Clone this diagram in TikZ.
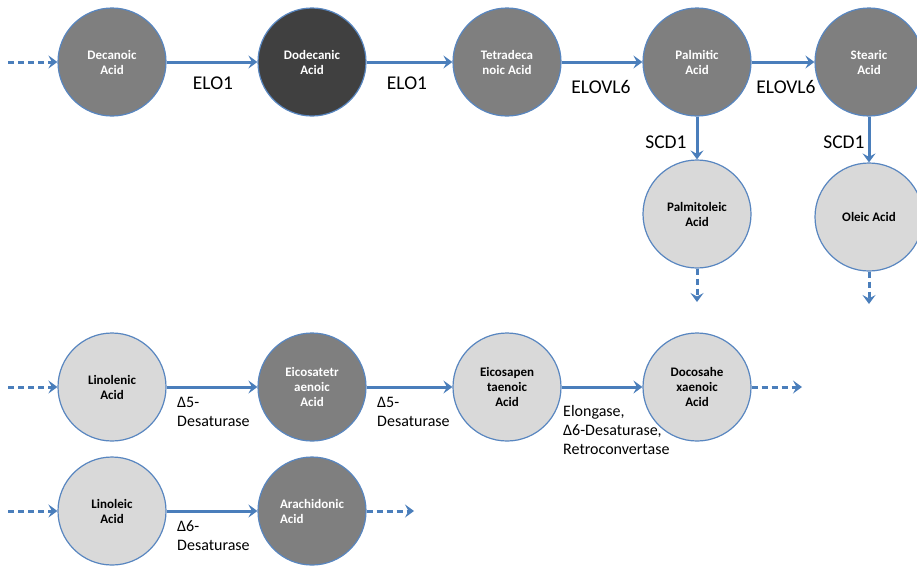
\documentclass[tikz,border=0pt]{standalone}
\usepackage{fontspec}
\setmainfont{Carlito}
\usetikzlibrary{arrows.meta}
\definecolor{arrowblue}{RGB}{74,126,187}
\definecolor{ringblue}{RGB}{88,134,192}
\definecolor{midgray}{RGB}{127,127,127}
\definecolor{darkgray}{RGB}{64,64,64}
\definecolor{lightgray}{RGB}{217,217,217}
\tikzset{
  acid/.style={circle, minimum size=108pt, inner sep=0pt, draw=ringblue, line width=1.2pt,
    font=\fontsize{13}{15}\selectfont\bfseries, align=center},
  darkacid/.style={acid, fill=midgray, text=white},
  blackacid/.style={acid, fill=darkgray, text=white},
  lightacid/.style={acid, fill=lightgray, text=black},
  arr/.style={draw=arrowblue, line width=3pt, -{Stealth[length=9pt,width=13pt,inset=3.5pt]}},
  darr/.style={arr, dash pattern=on 6pt off 4pt},
  enzbig/.style={font=\fontsize{19.5}{22}\selectfont, anchor=base, inner sep=0pt},
  enz/.style={font=\fontsize{16}{19}\selectfont, anchor=base west, align=left, inner sep=0pt},
}
\begin{document}
\begin{tikzpicture}[x=1pt,y=-1pt]
\useasboundingbox (0,0) rectangle (917,566);
\clip (0,0) rectangle (917,566);
\fill[white] (0,0) rectangle (917,566);
% row 1
\node[darkacid]  (dec) at (112,62) {Decanoic\\Acid};
\node[blackacid] (dod) at (312,62) {Dodecanic\\Acid};
\node[darkacid]  (tet) at (507,62) {Tetradeca\\noic Acid};
\node[darkacid]  (pal) at (697,62) {Palmitic\\Acid};
\node[darkacid]  (ste) at (869,62) {Stearic\\Acid};
\node[lightacid] (pol) at (697,214) {Palmitoleic\\Acid};
\node[lightacid] (ole) at (869,217) {Oleic Acid};
% row 2
\node[lightacid] (lnn) at (112,387) {Linolenic\\Acid};
\node[darkacid]  (eta) at (312,387) {Eicosatetr\\aenoic\\Acid};
\node[lightacid] (epa) at (507,387) {Eicosapen\\taenoic\\Acid};
\node[lightacid] (dha) at (697,387) {Docosahe\\xaenoic\\Acid};
% row 3
\node[lightacid] (lno) at (112,511) {Linoleic\\Acid};
\node[darkacid, align=left]  (ara) at (312,511) {Arachidonic\\Acid};
% free ends
\coordinate (in1) at (8,62);
\coordinate (in2) at (8,387);
\coordinate (in3) at (8,511);
\coordinate (out1) at (697,302);
\coordinate (out2) at (869,304);
\coordinate (out3) at (802,387);
\coordinate (out4) at (414,511);
% connectors
\draw[darr] (in1) -- (dec);
\draw[arr] (dec) -- (dod);
\draw[arr] (dod) -- (tet);
\draw[arr] (tet) -- (pal);
\draw[arr] (pal) -- (ste);
\draw[arr] (pal) -- (pol);
\draw[arr] (ste) -- (ole);
\draw[darr] (pol) -- (out1);
\draw[darr] (ole) -- (out2);
\draw[darr] (in2) -- (lnn);
\draw[arr] (lnn) -- (eta);
\draw[arr] (eta) -- (epa);
\draw[arr] (epa) -- (dha);
\draw[darr] (dha) -- (out3);
\draw[darr] (in3) -- (lno);
\draw[arr] (lno) -- (ara);
\draw[darr] (ara) -- (out4);
% enzyme labels
\node[enzbig] (l1) at (213,89) {ELO1};
\node[enzbig] (l2) at (407,89) {ELO1};
\node[enzbig] (l3) at (601,93) {ELOVL6};
\node[enzbig] (l4) at (786,93) {ELOVL6};
\node[enzbig] (l5) at (666,148) {SCD1};
\node[enzbig] (l6) at (844,148) {SCD1};
\node[enz] (l7) at (177,426) {Δ5-\\Desaturase};
\node[enz] (l8) at (377,426) {Δ5-\\Desaturase};
\node[enz] (l9) at (563,454) {Elongase,\\Δ6-Desaturase,\\Retroconvertase};
\node[enz] (l10) at (177,550) {Δ6-\\Desaturase};
\end{tikzpicture}
\end{document}
